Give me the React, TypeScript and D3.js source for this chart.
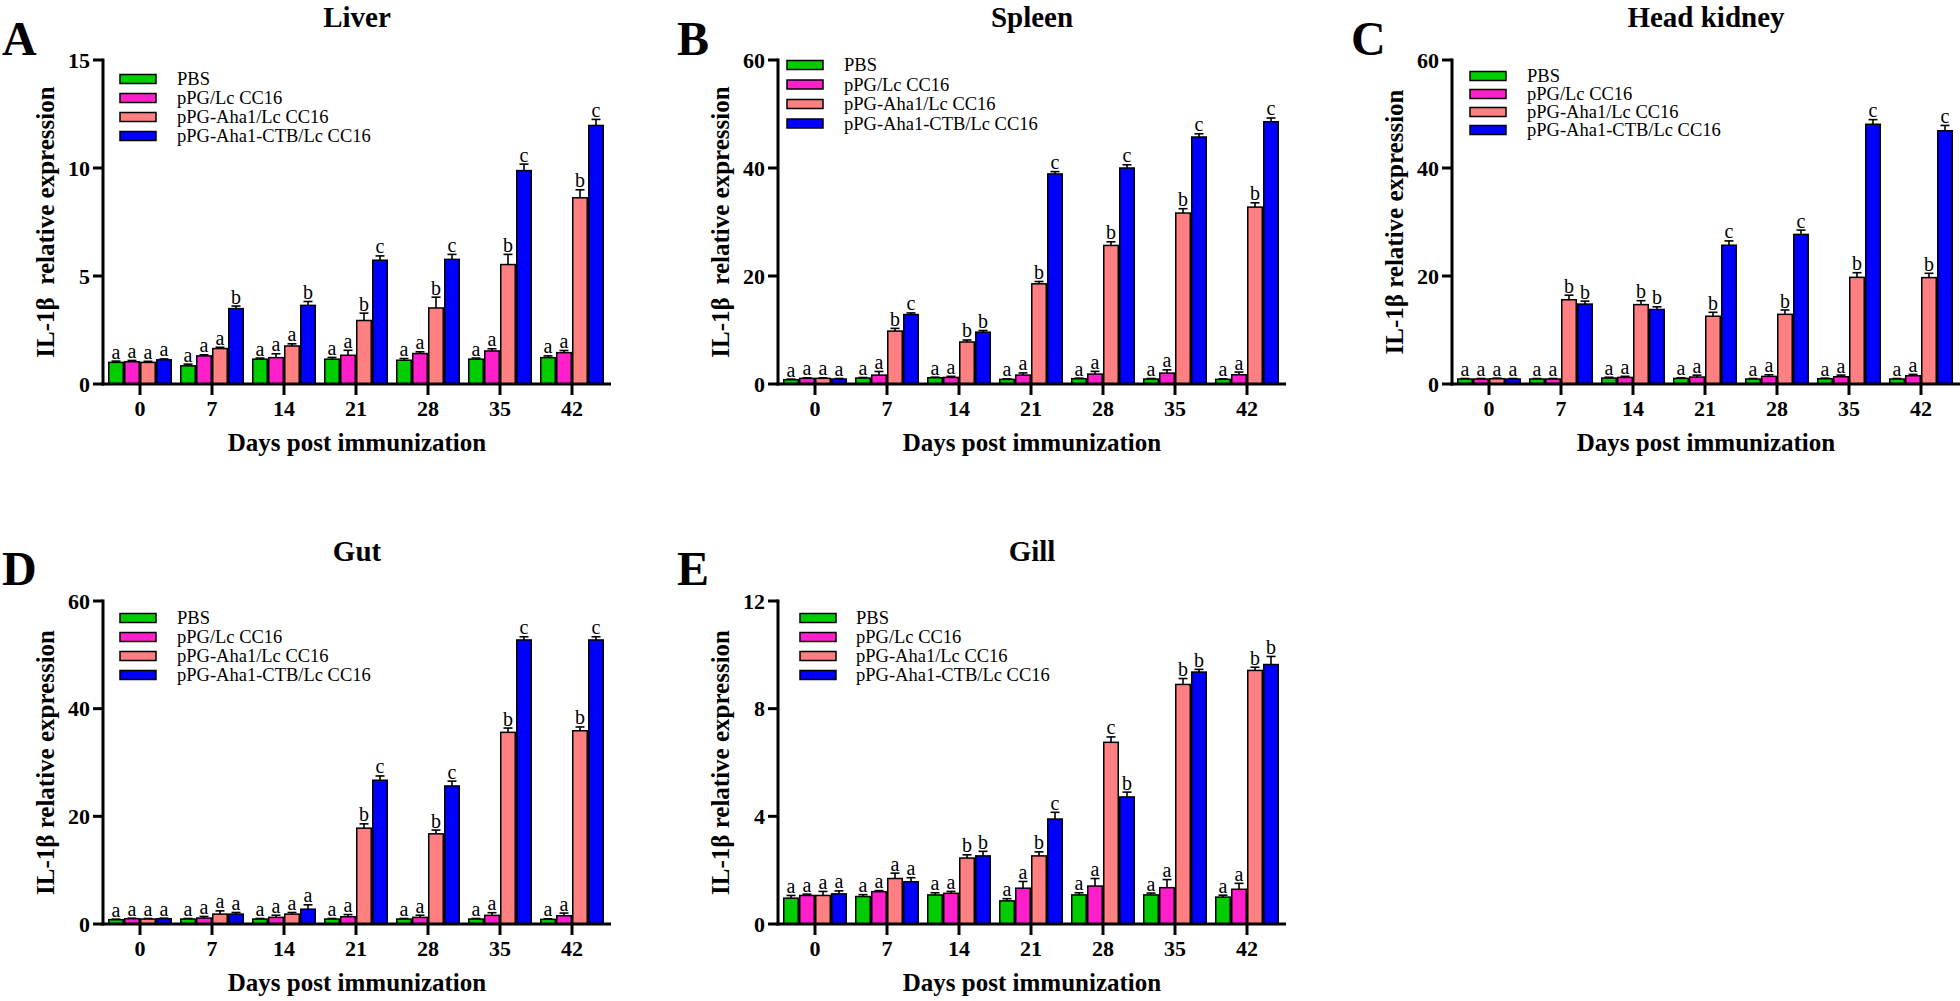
import React from "react";
import * as d3 from "d3";

// ---------- data ----------
const days = ["0", "7", "14", "21", "28", "35", "42"];
const groups = ["PBS", "pPG/Lc CC16", "pPG-Aha1/Lc CC16", "pPG-Aha1-CTB/Lc CC16"];

const liverTicks = [0, 5, 10, 15];
const sixtyTicks = [0, 20, 40, 60];
const gillTicks = [0, 4, 8, 12];

// Liver
const liverPBS = [1.0, 0.84, 1.15, 1.15, 1.1, 1.15, 1.22];
const liverPG = [1.03, 1.3, 1.22, 1.33, 1.41, 1.53, 1.45];
const liverAha = [1.0, 1.64, 1.76, 2.94, 3.52, 5.53, 8.62];
const liverCTB = [1.12, 3.49, 3.64, 5.73, 5.77, 9.88, 11.97];
const liverErrPBS = [0.06, 0.08, 0.05, 0.08, 0.08, 0.05, 0.08];
const liverErrPG = [0.06, 0.05, 0.18, 0.23, 0.08, 0.1, 0.1];
const liverErrAha = [0.05, 0.06, 0.1, 0.34, 0.5, 0.47, 0.37];
const liverErrCTB = [0.04, 0.12, 0.18, 0.2, 0.23, 0.3, 0.28];
const liverSig = ["aaaa", "aaab", "aaab", "aabc", "aabc", "aabc", "aabc"];

// Spleen
const spleenPBS = [0.8, 1.1, 1.16, 0.86, 0.98, 0.92, 0.86];
const spleenPG = [1.04, 1.65, 1.22, 1.65, 1.84, 2.02, 1.71];
const spleenAha = [1.04, 9.8, 7.78, 18.55, 25.66, 31.66, 32.76];
const spleenCTB = [0.92, 12.86, 9.6, 38.9, 40.0, 45.74, 48.56];
const spleenErrPBS = [0.1, 0.1, 0.1, 0.1, 0.1, 0.1, 0.1];
const spleenErrPG = [0.1, 0.67, 0.2, 0.4, 0.5, 0.6, 0.5];
const spleenErrAha = [0.1, 0.5, 0.37, 0.43, 0.67, 0.8, 0.8];
const spleenErrCTB = [0.1, 0.3, 0.3, 0.43, 0.6, 0.6, 0.7];
const spleenSig = ["aaaa", "aabc", "aabb", "aabc", "aabc", "aabc", "aabc"];

// Head kidney
const kidneyPBS = [0.92, 0.92, 1.1, 1.04, 0.92, 0.98, 0.92];
const kidneyPG = [0.92, 0.92, 1.22, 1.29, 1.41, 1.35, 1.53];
const kidneyAha = [0.98, 15.6, 14.7, 12.55, 12.9, 19.75, 19.7];
const kidneyCTB = [0.92, 14.8, 13.8, 25.7, 27.7, 48.1, 46.9];
const kidneyErrPBS = [0.1, 0.1, 0.15, 0.12, 0.1, 0.1, 0.1];
const kidneyErrPG = [0.1, 0.1, 0.2, 0.35, 0.3, 0.3, 0.25];
const kidneyErrAha = [0.1, 0.85, 0.73, 0.73, 0.8, 0.86, 0.8];
const kidneyErrCTB = [0.1, 0.55, 0.5, 0.8, 0.8, 0.86, 0.98];
const kidneySig = ["aaaa", "aabb", "aabb", "aabc", "aabc", "aabc", "aabc"];

// Gut
const gutPBS = [0.8, 0.92, 0.92, 0.92, 0.92, 0.92, 0.86];
const gutPG = [0.98, 1.1, 1.23, 1.35, 1.23, 1.6, 1.53];
const gutAha = [0.92, 1.84, 1.84, 17.8, 16.75, 35.6, 35.9];
const gutCTB = [0.98, 1.84, 2.76, 26.7, 25.64, 52.76, 52.76];
const gutErrPBS = [0.1, 0.1, 0.1, 0.1, 0.1, 0.1, 0.1];
const gutErrPG = [0.1, 0.3, 0.4, 0.4, 0.4, 0.5, 0.5];
const gutErrAha = [0.1, 0.6, 0.3, 0.8, 0.7, 0.8, 0.7];
const gutErrCTB = [0.1, 0.3, 0.8, 0.8, 0.9, 0.6, 0.6];
const gutSig = ["aaaa", "aaaa", "aaaa", "aabc", "aabc", "aabc", "aabc"];

// Gill
const gillPBS = [0.96, 1.02, 1.08, 0.86, 1.08, 1.08, 1.0];
const gillPG = [1.06, 1.2, 1.14, 1.33, 1.41, 1.35, 1.29];
const gillAha = [1.06, 1.69, 2.45, 2.53, 6.75, 8.9, 9.42];
const gillCTB = [1.12, 1.57, 2.53, 3.9, 4.72, 9.36, 9.64];
const gillErrPBS = [0.1, 0.07, 0.08, 0.08, 0.08, 0.07, 0.07];
const gillErrPG = [0.05, 0.04, 0.07, 0.25, 0.28, 0.3, 0.22];
const gillErrAha = [0.15, 0.2, 0.12, 0.15, 0.2, 0.22, 0.12];
const gillErrCTB = [0.11, 0.15, 0.17, 0.25, 0.18, 0.1, 0.3];
const gillSig = ["aaaa", "aaaa", "aabb", "aabc", "aacb", "aabb", "aabb"];

// ---------- style ----------
const colors = ["#00CC00", "#FF1FCB", "#FF8080", "#0000FF"];
const FONT = "'Liberation Serif', 'Times New Roman', serif";

type Panel = {
  letter: string;
  title: string;
  ax: number;
  top: number;
  base: number;
  ticks: number[];
  values: number[][];
  errors: number[][];
  sig: string[];
  leg: { dx: number; dy: number; step: number; tx: number };
  ylab: string;
  letterY: number;
  titleY: number;
};

const panels: Panel[] = [
  {
    letter: "A", title: "Liver", ax: 103, top: 60, base: 384, ticks: liverTicks,
    values: [liverPBS, liverPG, liverAha, liverCTB],
    errors: [liverErrPBS, liverErrPG, liverErrAha, liverErrCTB],
    sig: liverSig, leg: { dx: 17, dy: 19, step: 19, tx: 74 },
    ylab: "IL-1\u03B2  relative expression", letterY: 55, titleY: 27,
  },
  {
    letter: "B", title: "Spleen", ax: 778, top: 60, base: 384, ticks: sixtyTicks,
    values: [spleenPBS, spleenPG, spleenAha, spleenCTB],
    errors: [spleenErrPBS, spleenErrPG, spleenErrAha, spleenErrCTB],
    sig: spleenSig, leg: { dx: 9, dy: 5, step: 19.5, tx: 66 },
    ylab: "IL-1\u03B2  relative expression", letterY: 55, titleY: 27,
  },
  {
    letter: "C", title: "Head kidney", ax: 1452, top: 60, base: 384, ticks: sixtyTicks,
    values: [kidneyPBS, kidneyPG, kidneyAha, kidneyCTB],
    errors: [kidneyErrPBS, kidneyErrPG, kidneyErrAha, kidneyErrCTB],
    sig: kidneySig, leg: { dx: 18, dy: 16, step: 18, tx: 75 },
    ylab: "IL-1\u03B2 relative expression", letterY: 55, titleY: 27,
  },
  {
    letter: "D", title: "Gut", ax: 103, top: 601, base: 924, ticks: sixtyTicks,
    values: [gutPBS, gutPG, gutAha, gutCTB],
    errors: [gutErrPBS, gutErrPG, gutErrAha, gutErrCTB],
    sig: gutSig, leg: { dx: 17, dy: 17, step: 19, tx: 74 },
    ylab: "IL-1\u03B2 relative expression", letterY: 585, titleY: 561,
  },
  {
    letter: "E", title: "Gill", ax: 778, top: 601, base: 924, ticks: gillTicks,
    values: [gillPBS, gillPG, gillAha, gillCTB],
    errors: [gillErrPBS, gillErrPG, gillErrAha, gillErrCTB],
    sig: gillSig, leg: { dx: 22, dy: 17, step: 19, tx: 78 },
    ylab: "IL-1\u03B2 relative expression", letterY: 585, titleY: 561,
  },
];

const PLOT_W = 508;

function BarPanel({ p }: { p: Panel }) {
  const yMax = p.ticks[p.ticks.length - 1];
  const y = d3.scaleLinear().domain([0, yMax]).range([p.base, p.top]);
  const x = d3
    .scaleBand<string>()
    .domain(days)
    .range([p.ax + 1, p.ax + 505])
    .paddingInner(0.111)
    .paddingOuter(0.0555);
  const xs = d3.scaleBand<string>().domain(groups).range([0, x.bandwidth()]);
  const bw = xs.bandwidth();
  const cx = p.ax + PLOT_W / 2;

  return (
    <g>
      <text x={p.ax - 101} y={p.letterY} fontFamily={FONT} fontWeight="bold" fontSize={48}>
        {p.letter}
      </text>
      <text x={cx} y={p.titleY} textAnchor="middle" fontFamily={FONT} fontWeight="bold" fontSize={29}>
        {p.title}
      </text>
      {days.map((d, i) => (
        <g key={d}>
          {groups.map((g, s) => {
            const v = p.values[s][i];
            const e = p.errors[s][i];
            const bx = (x(d) as number) + (xs(g) as number);
            const mid = bx + bw / 2;
            const yTop = y(v);
            const yErr = y(v + e);
            return (
              <g key={g}>
                <line x1={mid} x2={mid} y1={yTop} y2={yErr} stroke="#000" strokeWidth={1.6} />
                <line x1={mid - 4.5} x2={mid + 4.5} y1={yErr} y2={yErr} stroke="#000" strokeWidth={1.6} />
                <rect
                  x={bx + 0.75}
                  y={yTop}
                  width={bw - 1.5}
                  height={p.base - yTop}
                  fill={colors[s]}
                  stroke="#000"
                  strokeWidth={1.5}
                />
                <text x={mid} y={yErr - 2.5} textAnchor="middle" fontFamily={FONT} fontSize={20}>
                  {p.sig[i][s]}
                </text>
              </g>
            );
          })}
        </g>
      ))}
      <line x1={p.ax} x2={p.ax} y1={p.top - 1.5} y2={p.base + 1.5} stroke="#000" strokeWidth={3} />
      {p.ticks.map((t) => (
        <g key={t}>
          <line x1={p.ax - 10} x2={p.ax} y1={y(t)} y2={y(t)} stroke="#000" strokeWidth={3} />
          <text x={p.ax - 13} y={y(t)} dy="0.35em" textAnchor="end" fontFamily={FONT} fontWeight="bold" fontSize={22}>
            {t}
          </text>
        </g>
      ))}
      <line x1={p.ax - 1.5} x2={p.ax + PLOT_W} y1={p.base} y2={p.base} stroke="#000" strokeWidth={3} />
      {days.map((d) => {
        const c = (x(d) as number) + x.bandwidth() / 2;
        return (
          <g key={d}>
            <line x1={c} x2={c} y1={p.base} y2={p.base + 11} stroke="#000" strokeWidth={3} />
            <text x={c} y={p.base + 32} textAnchor="middle" fontFamily={FONT} fontWeight="bold" fontSize={22}>
              {d}
            </text>
          </g>
        );
      })}
      <text x={cx} y={p.base + 67} textAnchor="middle" fontFamily={FONT} fontWeight="bold" fontSize={25}>
        Days post immunization
      </text>
      <text
        transform={`translate(${p.ax - 58},${(p.top + p.base) / 2}) rotate(-90)`}
        textAnchor="middle"
        dy="0.35em"
        fontFamily={FONT}
        fontWeight="bold"
        fontSize={25}
        style={{ whiteSpace: "pre" }}
      >
        {p.ylab}
      </text>
      {groups.map((g, s) => {
        const cy = p.top + p.leg.dy + s * p.leg.step;
        return (
          <g key={g}>
            <rect x={p.ax + p.leg.dx} y={cy - 4.5} width={36} height={9} fill={colors[s]} stroke="#000" strokeWidth={1.5} />
            <text x={p.ax + p.leg.tx} y={cy + 6} fontFamily={FONT} fontSize={18.5}>
              {g}
            </text>
          </g>
        );
      })}
    </g>
  );
}

export default function App() {
  return (
    <svg width={1960} height={1001} viewBox="0 0 1960 1001" style={{ position: "absolute", left: 0, top: 0, background: "#fff" }}>
      <rect x={0} y={0} width={1960} height={1001} fill="#fff" />
      {panels.map((p) => (
        <BarPanel key={p.letter} p={p} />
      ))}
    </svg>
  );
}
